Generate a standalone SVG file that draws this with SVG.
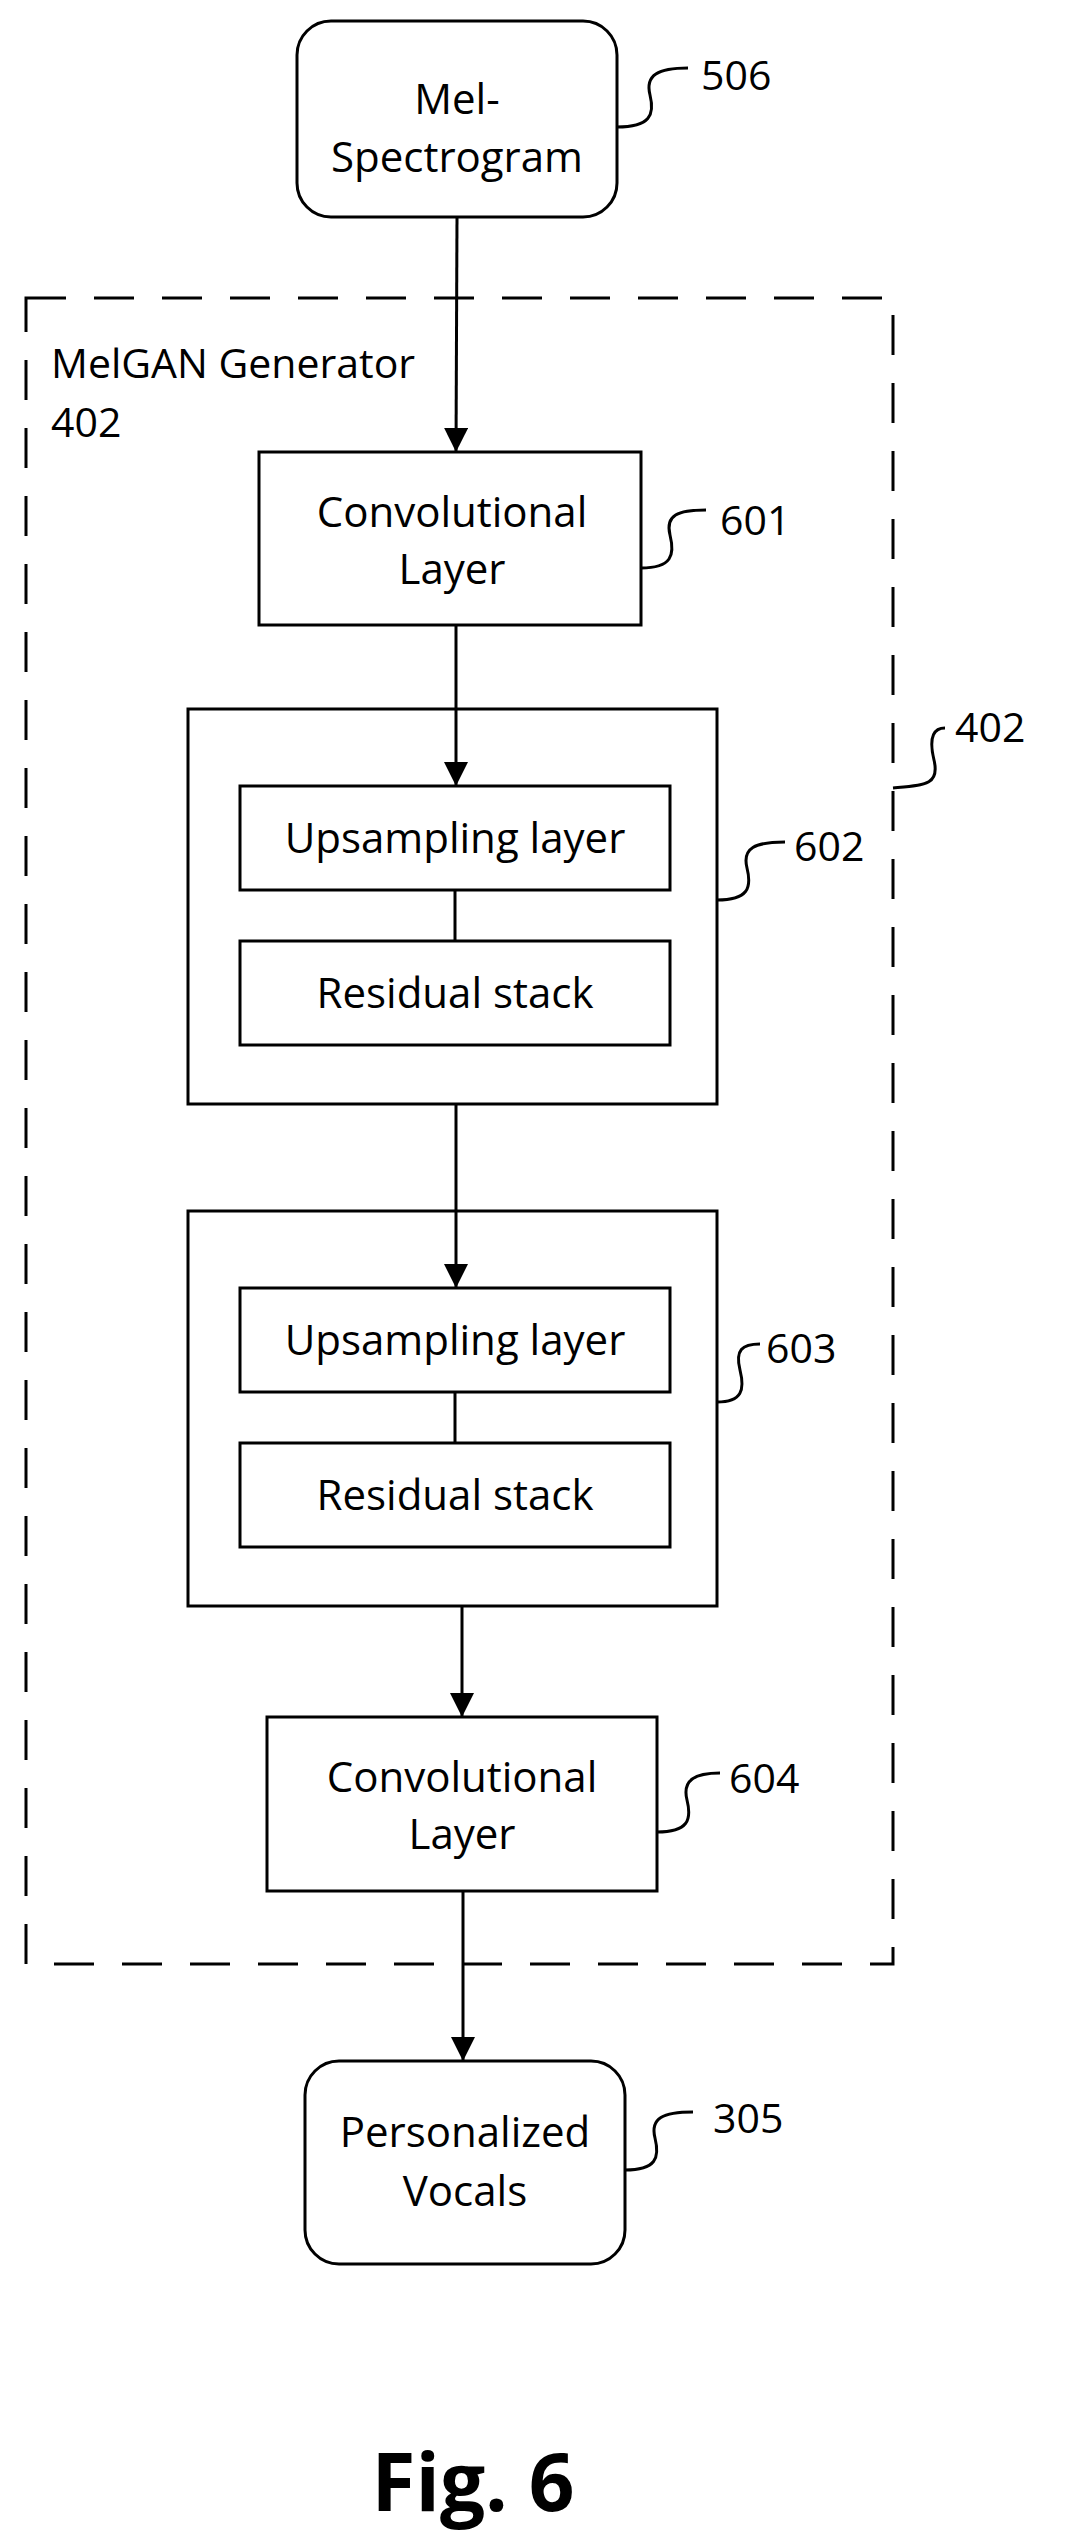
<svg xmlns="http://www.w3.org/2000/svg" width="1087" height="2544" viewBox="0 0 1087 2544">
<defs>
<marker id="a" markerWidth="24" markerHeight="30" refX="24" refY="12" orient="auto" markerUnits="userSpaceOnUse"><path d="M0,0 L24,12 L0,24 z" fill="#000"/></marker>
</defs>
<style>
.b{fill:#fff;stroke:#000;stroke-width:3}
.t{font-family:"Open Sans","Liberation Sans",sans-serif;font-size:42px;text-anchor:middle;fill:#000}
.l{font-family:"Open Sans","Liberation Sans",sans-serif;font-size:41px;fill:#000}
.s{fill:none;stroke:#000;stroke-width:3}
</style>
<rect width="1087" height="2544" fill="#fff"/>
<g id="generator">
<rect x="26" y="298" width="867" height="1666" fill="none" stroke="#000" stroke-width="3" stroke-dasharray="40,28"/>
<text class="l" x="51" y="378">MelGAN Generator</text>
<text class="l" x="51" y="437">402</text>
<path class="s" d="M893,788 C925,785 940,785 934,760 C928,735 935,728 945,728"/>
<text class="l" x="955" y="742">402</text>
</g>
<g id="n506">
<rect class="b" x="297" y="21" width="320" height="196" rx="34"/>
<text class="t" x="457" y="114">Mel-</text>
<text class="t" x="457" y="172">Spectrogram</text>
<path class="s" d="M617,127 C650,127 655,115 650,95 C645,75 658,68 688,68"/>
<text class="l" x="701" y="90">506</text>
</g>
<g id="n601">
<rect class="b" x="259" y="452" width="382" height="173"/>
<text class="t" x="452" y="527">Convolutional</text>
<text class="t" x="452" y="584">Layer</text>
<path class="s" d="M641,568 C672,568 675,555 670,535 C665,515 678,510 706,510"/>
<text class="l" x="720" y="535">601</text>
</g>
<g id="n602">
<rect class="b" x="188" y="709" width="529" height="395"/>
<rect class="b" x="240" y="786" width="430" height="104"/>
<text class="t" x="455" y="853">Upsampling layer</text>
<rect class="b" x="240" y="941" width="430" height="104"/>
<text class="t" x="455" y="1008">Residual stack</text>
<path class="s" d="M717,900 C748,900 752,888 747,868 C742,848 755,842 785,842"/>
<text class="l" x="794" y="861">602</text>
</g>
<g id="n603">
<rect class="b" x="188" y="1211" width="529" height="395"/>
<rect class="b" x="240" y="1288" width="430" height="104"/>
<text class="t" x="455" y="1355">Upsampling layer</text>
<rect class="b" x="240" y="1443" width="430" height="104"/>
<text class="t" x="455" y="1510">Residual stack</text>
<path class="s" d="M717,1402 C742,1402 745,1390 740,1370 C735,1350 742,1344 760,1344"/>
<text class="l" x="766" y="1363">603</text>
</g>
<g id="n604">
<rect class="b" x="267" y="1717" width="390" height="174"/>
<text class="t" x="462" y="1792">Convolutional</text>
<text class="t" x="462" y="1849">Layer</text>
<path class="s" d="M657,1832 C688,1832 692,1820 687,1800 C682,1780 695,1773 720,1773"/>
<text class="l" x="729" y="1793">604</text>
</g>
<g id="n305">
<rect class="b" x="305" y="2061" width="320" height="203" rx="34"/>
<text class="t" x="465" y="2147">Personalized</text>
<text class="t" x="465" y="2206">Vocals</text>
<path class="s" d="M625,2170 C656,2170 660,2158 655,2138 C650,2118 663,2112 693,2112"/>
<text class="l" x="713" y="2133">305</text>
</g>
<g id="connectors" stroke="#000" stroke-width="3" fill="none">
<line x1="457" y1="217" x2="456" y2="452" marker-end="url(#a)"/>
<line x1="456" y1="625" x2="456" y2="786" marker-end="url(#a)"/>
<line x1="455" y1="890" x2="455" y2="941"/>
<line x1="456" y1="1104" x2="456" y2="1288" marker-end="url(#a)"/>
<line x1="455" y1="1392" x2="455" y2="1443"/>
<line x1="462" y1="1606" x2="462" y2="1717" marker-end="url(#a)"/>
<line x1="463" y1="1891" x2="463" y2="2061" marker-end="url(#a)"/>
</g>
<text x="473" y="2511" font-family="Open Sans, Liberation Sans, sans-serif" font-weight="bold" font-size="80" text-anchor="middle">Fig. 6</text>
</svg>
